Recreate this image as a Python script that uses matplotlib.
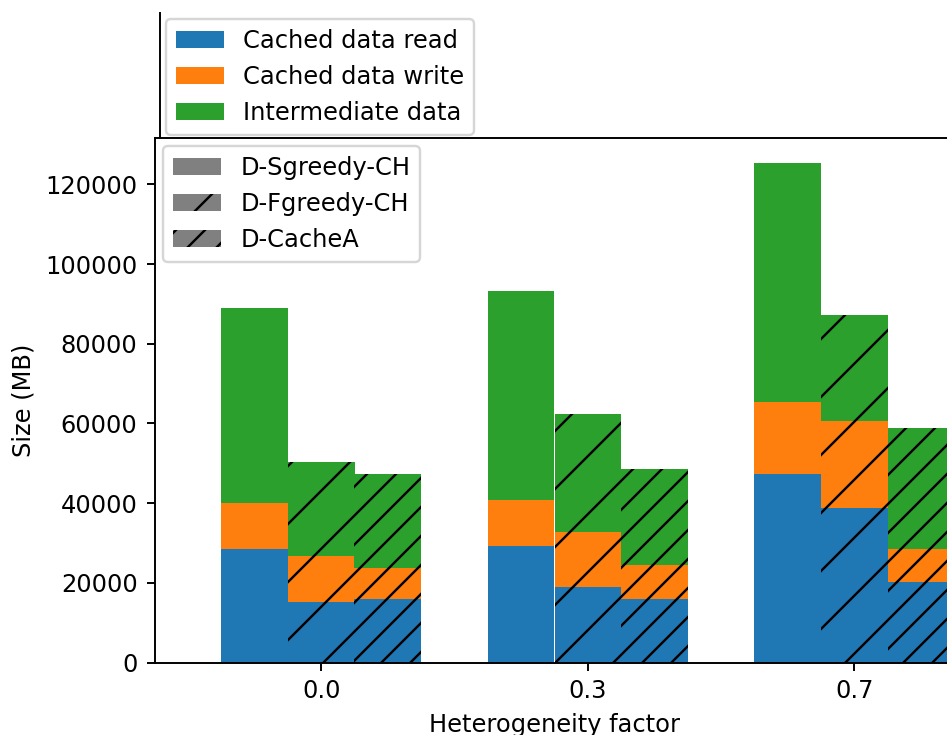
import numpy as np
import matplotlib
matplotlib.use("Agg")
import matplotlib.pyplot as plt
from matplotlib.patches import Patch

# Datos (MB)
factors = ["0.0", "0.3", "0.7"]
methods = ["D-Sgreedy-CH", "D-Fgreedy-CH", "D-CacheA"]
hatches = ["", "/", "//"]

# una fila por metodo, una columna por factor
cached_read = [[28600, 29200, 47400],
               [15300, 19000, 38900],
               [15900, 15900, 20100]]
cached_write = [[11500, 11500, 18100],
                [11500, 13800, 21800],
                [7800, 8500, 8500]]
intermediate = [[49000, 52600, 59900],
                [23600, 29600, 26600],
                [23700, 24100, 30200]]

parts = ["Cached data read", "Cached data write", "Intermediate data"]
colors = ["#1f77b4", "#ff7f0e", "#2ca02c"]

fig = plt.figure(figsize=(947 / 174, 735 / 174), dpi=174)
ax = fig.add_axes([154.5 / 947, (735 - 662.5) / 735, 800 / 947, (662.5 - 138) / 735])

x = np.arange(len(factors))
width = 0.25
for m in range(len(methods)):
    pos = x + (m - 1) * width
    read = np.array(cached_read[m])
    write = np.array(cached_write[m])
    inter = np.array(intermediate[m])
    ax.bar(pos, read, width, color=colors[0], hatch=hatches[m])
    ax.bar(pos, write, width, bottom=read, color=colors[1], hatch=hatches[m])
    ax.bar(pos, inter, width, bottom=read + write, color=colors[2], hatch=hatches[m])

ax.set_xticks(x)
ax.set_xticklabels(factors)
ax.set_xlim(-0.625, 2.375)
ax.set_xlabel("Heterogeneity factor")
ax.set_ylabel("Size (MB)")

# leyenda de hatch dentro del eje
hatch_handles = [Patch(facecolor="gray", hatch=h, label=lab) for h, lab in zip(hatches, methods)]
leg2 = ax.legend(handles=hatch_handles, loc="upper left", borderaxespad=0.35)

# leyenda de colores arriba del eje
color_handles = [Patch(facecolor=c, label=lab) for c, lab in zip(colors, parts)]
fig.legend(handles=color_handles, loc="lower left",
           bbox_to_anchor=(166 / 947, (735 - 135) / 735), borderaxespad=0)

# linea vertical suelta arriba a la izquierda
ax_line = fig.add_axes([159.5 / 947, (735 - 138) / 735, 0.01, (138 - 13) / 735])
ax_line.patch.set_visible(False)
for s in ["top", "right", "bottom"]:
    ax_line.spines[s].set_visible(False)
ax_line.set_xticks([])
ax_line.set_yticks([])

fig.savefig("out.png", dpi=174)
